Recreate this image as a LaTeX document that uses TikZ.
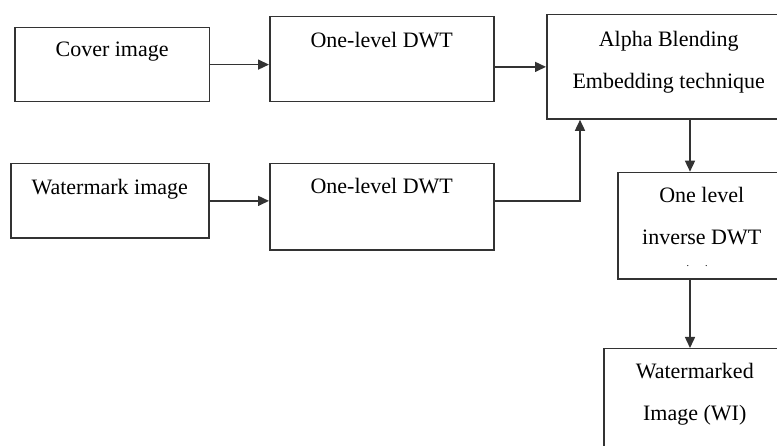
\documentclass[tikz,border=0pt]{standalone}
\usepackage{fontspec}
\setmainfont{Liberation Serif}
\usetikzlibrary{positioning, arrows.meta}
\definecolor{ink}{rgb}{0.2,0.2,0.2}

\begin{document}
\begin{tikzpicture}[
  x=1pt, y=-1pt,
  every node/.style={
    inner sep=0pt,
    font=\fontsize{22}{42}\selectfont,
  },
  block/.style={draw=ink, line width=1.5pt, align=center, anchor=north west},
  arr/.style={draw=ink, line width=1.5pt, -{Triangle[length=11pt, width=10pt]}},
]
\useasboundingbox (0,0) rectangle (777,446);
\clip (0,0) rectangle (777,446);

\node[block, minimum width=194.7pt, text height=29pt, text depth=44.7pt] (cover) at (14,27) {Cover image};
\node[block, minimum width=224pt, text height=30.7pt, text depth=54pt] (dwta) at (269,16) {One-level DWT};
\node[block, minimum width=244pt, text height=73.3pt, text depth=31pt] (alpha) at (546,14) {Alpha Blending\\Embedding technique};
\node[block, minimum width=198pt, text height=30.3pt, text depth=44pt] (wm) at (10,163) {Watermark image};
\node[block, minimum width=224pt, text height=29.7pt, text depth=56.6pt] (dwtb) at (269,163) {One-level DWT};
\node[block, minimum width=168pt, text height=72.3pt, text depth=34.3pt] (inv) at (617,171.7) {One level\\inverse DWT};
\node[block, minimum width=182pt, text height=71.3pt, text depth=51pt] (wmk) at (603,348) {Watermarked\\Image (WI)};
\node[font=\fontsize{10}{12}\selectfont] (dots) at (697,266) {.\hspace{16pt}.};

\coordinate (invtop) at ([xshift=73pt]inv.north west);
\coordinate (invbot) at ([xshift=73pt]inv.south west);

\draw[arr] (cover.east) -- (cover.east -| dwta.west);
\draw[arr] (alpha.west -| dwta.east) -- (alpha.west);
\draw[arr] (wm.east) -- (wm.east -| dwtb.west);
\draw[arr] (wm.east -| dwtb.east) -| ([xshift=34pt]alpha.south west);
\draw[arr] (alpha.south -| invtop) -- (invtop);
\draw[arr] (invbot) -- (wmk.north -| invbot);

\end{tikzpicture}
\end{document}
